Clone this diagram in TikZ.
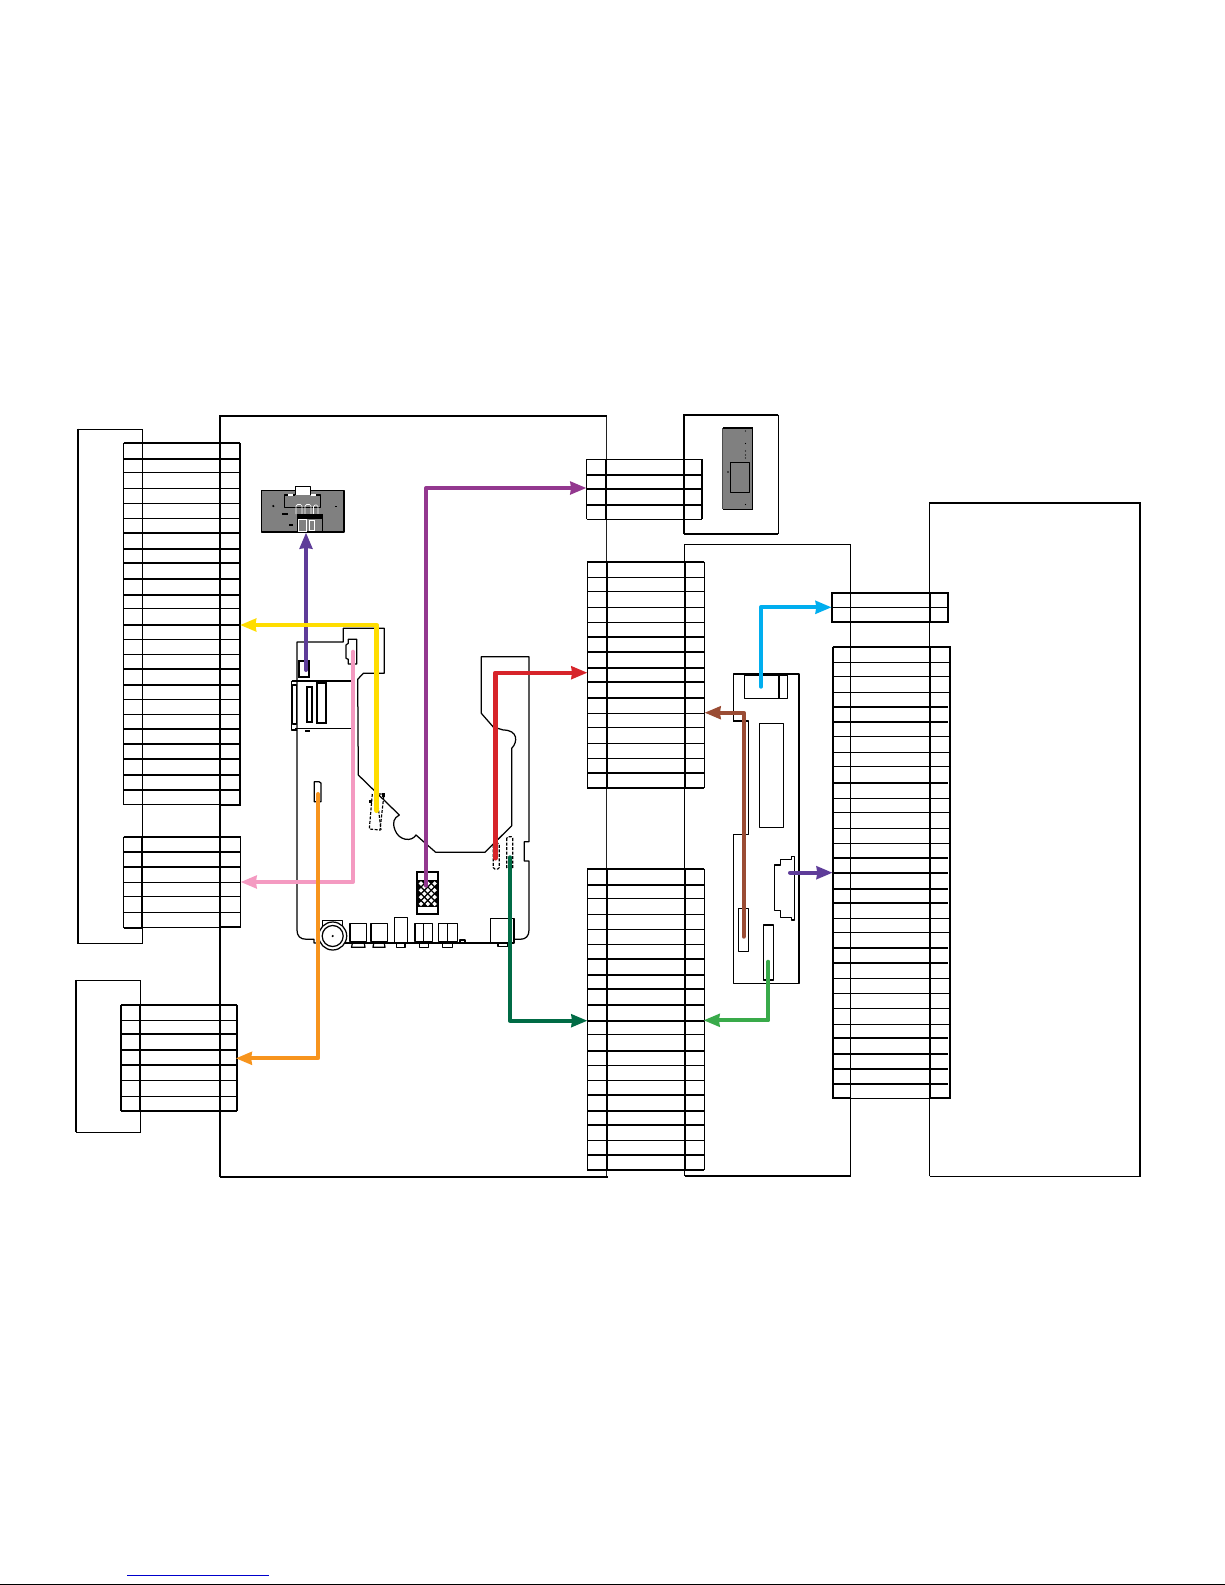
\documentclass[tikz,border=0pt]{standalone}
\usetikzlibrary{arrows.meta}
\definecolor{wireviolet}{HTML}{5E3C99}
\definecolor{wirepurple}{HTML}{93388F}
\definecolor{wireyellow}{HTML}{FFDD00}
\definecolor{wirepink}{HTML}{F49AC1}
\definecolor{wireorange}{HTML}{F7941D}
\definecolor{wirered}{HTML}{D7242A}
\definecolor{wiredark}{HTML}{006B45}
\definecolor{wiregreen}{HTML}{39AA4A}
\definecolor{wirebrown}{HTML}{9A4C34}
\definecolor{wirecyan}{HTML}{00AEEF}
\tikzset{
    thinline/.style={line width=0.95pt},
    thickline/.style={line width=1.9pt},
    partline/.style={line width=1.25pt, line join=round},
    dashline/.style={line width=1.15pt, dash pattern=on 3pt off 1.5pt},
    wire/.style={line width=4pt, line cap=round, line join=round, -{Stealth[length=16pt,width=12.5pt,inset=0.6pt]}}
}
\begin{document}
\begin{tikzpicture}[x=1pt,y=-1pt]
    \useasboundingbox (0,0) rectangle (1225,1585);

    \draw[thinline] (78,943) -- (142,943) -- (142,429) -- (78,429);
    \draw[thickline] (78,428.5) -- (78,943.5);
    \draw[thinline] (140.3,980.3) -- (76,980.3);
    \draw[thickline] (76,979.8) -- (76,1132.3);
    \draw[thinline] (76,1132.3) -- (140.3,1132.3) -- (140.3,980.3);
    \draw[gray!25!black, line width=1.4pt] (606.7,416) -- (606.7,1176.7);
    \draw[thickline] (220,1176.7) -- (220,415.7) -- (606.7,415.7);
    \draw[thickline] (220,1176.7) -- (607.5,1176.7);
    \draw[thickline] (684,534) -- (684,414.7) -- (778.3,414.7);
    \draw[thinline] (778.3,414.7) -- (778.3,534);
    \draw[thickline] (684,534) -- (778.3,534);
    \draw[thinline] (684.5,1176) -- (684.5,544.7) -- (850.5,544.7) -- (850.5,1176);
    \draw[thickline] (684.5,1175.7) -- (851.3,1175.7);
    \draw[thinline] (929.7,1176) -- (929.7,503);
    \draw[thickline] (929.2,503) -- (1140,503) -- (1140,1176.7);
    \draw[thinline] (929.7,1176) -- (1140,1176);

    \foreach \y in {472.3,488.3,503.3,518.3,608.3,639.3,654.3,699,714.3}
        \draw[thinline] (123.5,\y) -- (240,\y);
    \foreach \y in {443,459,532.7,549,562.7,579,595,625,668.7,685,729,743.7,759,775,790}
        \draw[thickline] (123.5,\y) -- (240,\y);
    \draw[thinline] (123.5,443) -- (123.5,804) -- (220,804);
    \draw[thinline] (142,443) -- (142,804);
    \draw[thinline] (220,443) -- (220,804);
    \draw[thickline] (240,443) -- (240,805) -- (220,805);

    \foreach \y in {882.3,896.3,912.3,927.3}
        \draw[thinline] (123.5,\y) -- (240.5,\y);
    \foreach \y in {836.7,851.7,867}
        \draw[thickline] (123.5,\y) -- (240.5,\y);
    \draw[thinline] (123.5,836.7) -- (123.5,928) (240.5,836.7) -- (240.5,927.3);
    \draw[thickline] (142,836.7) -- (142,928) -- (123.5,928);
    \draw[thickline] (220,836.7) -- (220,927.3) -- (240.5,927.3);

    \foreach \y in {1020.3,1080.3,1096.3}
        \draw[thinline] (121,\y) -- (237,\y);
    \foreach \y in {1004.7,1033.7,1049.7,1065,1111}
        \draw[thickline] (121,\y) -- (237,\y);
    \draw[thickline] (121,1004.7) -- (121,1111);
    \draw[thickline] (140.3,1004.7) -- (140.3,1111);
    \draw[thickline] (220,1004.7) -- (220,1111);
    \draw[thickline] (237,1004.7) -- (237,1111);

    \foreach \y in {459.3,519.3}
        \draw[thinline] (586.7,\y) -- (702.3,\y);
    \foreach \y in {474.7,488.7,504.7}
        \draw[thickline] (586.7,\y) -- (702.3,\y);
    \draw[thinline] (586.7,459.3) -- (586.7,519.3);
    \draw[thickline] (605.7,459.3) -- (605.7,519.3);
    \draw[thickline] (684,459.3) -- (684,519.3);
    \draw[thickline] (702.3,459.3) -- (702.3,519.3);

    \foreach \y in {577.3,591.3,607.3,622.3,713.3,727.3,743.3,758.3}
        \draw[thinline] (587.3,\y) -- (704.3,\y);
    \foreach \y in {561.7,637,652,667.7,681.7,698,772.7,788}
        \draw[thickline] (587.3,\y) -- (704.3,\y);
    \draw[thinline,line width=1.2pt] (587.3,561.7) -- (587.3,788);
    \draw[thickline] (606.7,561.7) -- (606.7,788);
    \draw[thickline] (685,561.7) -- (685,788);
    \draw[thinline] (704.3,561.7) -- (704.3,788);

    \foreach \y in {898.7,914.3,929.3,944.3,1034.3,1065.7,1080.3,1140.3}
        \draw[thinline] (587.3,\y) -- (704.3,\y);
    \foreach \y in {868.7,884.7,959,974.7,988.7,1005,1020.7,1050.7,1095,1110.7,1124.7,1155,1170}
        \draw[thickline] (587.3,\y) -- (704.3,\y);
    \draw[thinline,line width=1.2pt] (587.3,868.7) -- (587.3,1170);
    \draw[thickline] (606.7,868.7) -- (606.7,1170);
    \draw[thickline] (685,868.7) -- (685,1170);
    \draw[thinline,line width=1.2pt] (704.3,868.7) -- (704.3,1170);

    \draw[thickline] (831.7,592.7) rectangle (948.3,621.7);
    \draw[thinline] (831.7,607.3) -- (948.3,607.3);
    \draw[thinline] (850.5,592.7) -- (850.5,621.7);
    \draw[thickline] (930,592.7) -- (930,621.7);
    \draw[color=white, line width=1.2pt] (851,621.7) -- (929,621.7);
    \draw[thinline] (851,621.5) -- (929,621.5);

    \foreach \y in {662.3,676.3,692.3,736.3,752.3,766.3,798.3,812.3,828.7,843.3,918.3,932.3,978.3,993.3,1008.3,1024.3}
        \draw[thinline] (832.7,\y) -- (949,\y);
    \foreach \y in {707,721.7,782.7,858,873,889,903,947.7,963,1038,1054,1069,1083.7}
        \draw[thickline] (832.7,\y) -- (948,\y);
    \draw[thickline] (832.7,646.7) -- (950.5,646.7);
    \draw[thickline] (832.7,646.7) -- (832.7,1098.3) -- (850.7,1098.3);
    \draw[thinline] (850.7,646.7) -- (850.7,1098.3) -- (930,1098.3);
    \draw[line width=2.6pt] (930,646.7) -- (930,1098.3);
    \draw[thickline] (930,1098.3) -- (950,1098.3) -- (950,646.7);

    \fill[gray] (261.3,490.3) rectangle (344,532);
    \draw[partline] (261.3,490.3) rectangle (344,532);
    \draw[partline,fill=white] (295.3,495) -- (295.3,486.3) -- (310.7,486.3) -- (310.7,495);
    \draw[partline] (295.3,495) -- (284.3,495) -- (284.3,507.3) -- (320.7,507.3) -- (320.7,495) -- (310.7,495);
    \draw[color=white, line width=0.7pt, rounded corners=1.5pt] (296,514) -- (296,504.5) -- (302,504.5) -- (302,514) (305,514) -- (305,504.5) -- (311,504.5) -- (311,514) (313.5,514) -- (313.5,505) -- (318,505) -- (318,514);
    \fill (297.3,514) rectangle (322.7,518);
    \draw[partline] (297.3,518) rectangle (322.7,532);
    \draw[color=white, line width=0.8pt] (298.5,519) rectangle (306,531);
    \draw[color=white, line width=0.8pt] (309,520) rectangle (314,530.5);
    \fill (273.3,506) circle (1.2pt);
    \fill (335,505.5) rectangle (337,507);
    \fill (282,513.3) rectangle (288,515.3);
    \fill (288.7,524.2) rectangle (292.7,526.2);
    \fill[white] (288,494) rectangle (293,496);
    \fill[white] (311,494) rectangle (316,496);

    \fill[gray] (722.7,428) rectangle (752.7,509.3);
    \draw[line width=1.2pt] (722.7,509.3) -- (752.7,509.3) -- (752.7,428) -- (722.7,428);
    \draw[gray!60!black, line width=1.2pt] (722.7,428) -- (722.7,509.3);
    \draw[partline] (730.7,462.3) rectangle (749.3,492.3);
    \foreach \y in {431,443.5,451,455,458,504.5}
        \fill (745.5,\y) circle (0.7pt);
    \fill (728,472) circle (0.8pt);

    \draw[partline] (297,730) -- (297,642) -- (343.3,642) -- (343.3,628.3) -- (384.3,628.3) -- (384.3,673.3) -- (363.3,673.3) -- (357.7,679.3) -- (358.3,775) -- (399.3,815)
        .. controls (394,818) and (392,822) .. (395,830) .. controls (399,841) and (412,842) .. (416,835) -- (435.7,852.3) -- (485,852.3) -- (511.7,825.7) -- (511.7,748.3)
        .. controls (518,742) and (518,730) .. (503.3,730) -- (493.3,727) -- (481.3,713.3) -- (481.3,656.7) -- (529,656.7) -- (529,841.7) -- (524.3,841.7) -- (524.3,861) -- (529,861) -- (529,930)
        .. controls (529,936) and (526,939.3) .. (520,939.3) -- (514,939.3);
    \draw[partline] (297,730) -- (297,930) .. controls (297,936) and (300,939.3) .. (306.7,939.3) -- (314,939.3) -- (314,943) -- (320,943);
    \draw[partline] (345,943) -- (490.7,943);

    \draw[thickline] (299,660.7) rectangle (309,677.3);
    \draw[partline] (356.7,639.3) -- (348.3,639.3) -- (348.3,643.3) -- (346,645) -- (346,658.3) -- (348.3,659.3) -- (348.3,664) -- (356.7,664) -- cycle;
    \draw[thickline] (291.7,680.7) -- (351.7,680.7);
    \draw[partline] (291.7,680.7) -- (291.7,730) -- (297,730);
    \draw[partline] (295,728.3) -- (351.7,728.3);
    \draw[partline] (292.3,685) rectangle (296.7,724);
    \draw[thickline] (306.7,686.7) rectangle (312.3,722.3);
    \draw[thickline] (317.3,683.3) rectangle (326,722.7);
    \draw[thickline] (305,731) -- (310,731);

    \draw[partline] (314.3,781.7) -- (314.3,801.7) -- (321,801.7) -- (321,783) -- (319,781.7) -- cycle;
    \draw[dashline] (372.3,794) -- (369.3,829) -- (380,830) -- (384,794);
    \draw[dashline] (374,794) -- (384,794) (377,797) -- (381,830);
    \fill (368.5,800) rectangle (372,803);
    \fill (382,793) rectangle (385,797);
    \draw[dashline,rounded corners=1.5pt] (493.3,843.3) rectangle (499.3,869);
    \draw[dashline,rounded corners=1.5pt] (506.7,836.7) rectangle (512.7,869);

    \draw[thickline] (417.3,872.3) rectangle (438.3,914.3);
    \fill (417.3,880) rectangle (438.3,906.7);
    \foreach \x in {421,427.8,434.6}
        \foreach \y in {883.5,890.3,897.1,903.9}
            \fill[white] (\x,\y-2.3) -- (\x+2.3,\y) -- (\x,\y+2.3) -- (\x-2.3,\y) -- cycle;
    \foreach \x in {424.4,431.2}
        \foreach \y in {886.9,893.7,900.5}
            \fill[white] (\x,\y-2.3) -- (\x+2.3,\y) -- (\x,\y+2.3) -- (\x-2.3,\y) -- cycle;

    \draw[partline] (332.7,936) circle (14pt);
    \draw[partline] (332.7,936) circle (10.5pt);
    \fill (332.7,936) circle (1.2pt);
    \draw[partline] (322.7,926) -- (322.7,920.7) -- (342.7,920.7) -- (342.7,926);
    \draw[partline] (350,923.3) rectangle (366.7,941.7);
    \draw[partline] (352.7,941.7) -- (351.5,947.3) -- (365,947.3) -- (364,941.7);
    \draw[partline] (371,923.3) rectangle (387.3,941.7);
    \draw[partline] (374,941.7) -- (373,947.3) -- (385,947.3) -- (384,941.7);
    \draw[partline] (394.3,917.3) rectangle (407.3,942.7);
    \draw[partline] (396.7,942.7) rectangle (405,947.3);
    \draw[partline] (415,923.3) rectangle (432.7,941.7);
    \draw[partline] (423.3,923.3) -- (423.3,941.7);
    \draw[partline] (419.3,941.7) rectangle (428.3,947.3);
    \draw[partline] (438.3,923.3) rectangle (457.3,941.7);
    \draw[partline] (447.7,923.3) -- (447.7,941.7);
    \draw[partline] (442.7,941.7) rectangle (452.7,947.3);
    \draw[partline] (457.3,943) -- (460,943) -- (460,940) -- (465,940) -- (465,943);
    \draw[partline,fill=white] (490.7,918.3) rectangle (514,943);
    \draw[partline] (498,943) rectangle (508,946.7);

    \draw[partline] (733.3,721) -- (733.3,674) -- (799,674) -- (799,983.3) -- (733.3,983.3) -- (733.3,834.3);
    \draw[partline] (733.3,721) -- (748.3,721) -- (748.3,834.3) -- (733.3,834.3);
    \draw[partline] (744.3,675) rectangle (787.3,698.3);
    \draw[thickline] (744.3,674.5) -- (787.3,674.5);
    \draw[thickline] (779,675) -- (779,698.3);
    \draw[partline] (759.3,723.3) rectangle (783.3,827.3);
    \draw[partline] (794.7,856.7) -- (791.7,856.7) -- (791.7,859.3) -- (780.7,859.3) -- (780.7,865) -- (774.7,865) -- (774.7,910.7) -- (780.7,910.7) -- (780.7,917.3) -- (791.7,917.3) -- (791.7,920) -- (794.7,920) -- cycle;
    \draw[partline] (738.3,908.3) rectangle (748.3,951.7);
    \draw[partline] (763.3,925) rectangle (773.3,980);

    \coordinate (usbEnd) at (306,670);
    \coordinate (usbTip) at (306,532.5);
    \coordinate (hdmiEnd) at (353,651.7);
    \coordinate (hdmiTip) at (240.5,882);
    \coordinate (tunerEnd) at (318,794);
    \coordinate (tunerTip) at (235.7,1058.3);
    \coordinate (stripEnd) at (376.7,810.7);
    \coordinate (stripTip) at (240,625);
    \coordinate (gridEnd) at (426,885.7);
    \coordinate (gridTip) at (586.5,488);
    \coordinate (redEnd) at (495.3,858.3);
    \coordinate (redTip) at (587.5,672.7);
    \coordinate (darkEnd) at (510,857.3);
    \coordinate (darkTip) at (587.5,1020.7);
    \coordinate (lowerEnd) at (768.3,961.7);
    \coordinate (lowerTip) at (703.5,1020.3);
    \coordinate (brownEnd) at (743.7,936.7);
    \coordinate (brownTip) at (704.5,712.7);
    \coordinate (cyanEnd) at (761,686.7);
    \coordinate (cyanTip) at (831.7,607.3);
    \coordinate (sideEnd) at (790,872.7);
    \coordinate (sideTip) at (832.7,872.7);

    \draw[wire,wireviolet] (usbEnd) -- (usbTip);
    \draw[wire,wirepink] (hdmiEnd) |- (hdmiTip);
    \draw[wire,wireorange] (tunerEnd) |- (tunerTip);
    \draw[wire,wireyellow,line width=4.6pt] (stripEnd) |- (stripTip);
    \draw[wire,wirepurple] (gridEnd) |- (gridTip);
    \draw[wire,wirered,line width=4.4pt] (redEnd) |- (redTip);
    \draw[wire,wiredark] (darkEnd) |- (darkTip);
    \draw[wire,wiregreen] (lowerEnd) |- (lowerTip);
    \draw[wire,wirebrown] (brownEnd) |- (brownTip);
    \draw[wire,wirecyan] (cyanEnd) |- (cyanTip);
    \draw[wire,wireviolet] (sideEnd) -- (sideTip);

    \draw[color=blue!80!black, line width=1pt] (127,1575.3) -- (269,1575.3);
    \draw[line width=1.5pt] (0,1584.3) -- (1225,1584.3);
\end{tikzpicture}
\end{document}
